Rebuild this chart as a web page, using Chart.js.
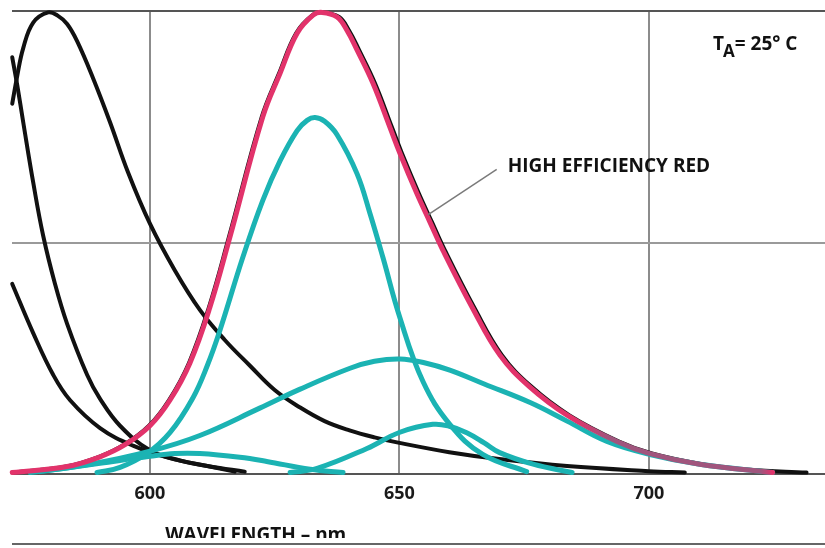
<!DOCTYPE html>
<html>
<head>
<meta charset="utf-8">
<script src="https://cdn.jsdelivr.net/npm/chart.js@4/dist/chart.umd.min.js"></script>
<style>
body { margin: 0; background: #fff; }
#wrap { width: 825px; height: 548px; }
</style>
</head>
<body>
<div id="wrap"><canvas id="chart1" width="825" height="548"></canvas></div>
<script>
// wavelength (nm) / relative intensity
let xTicks = [600, 650, 700],
    yTicks = [0, 0.5, 1];

// black curves
let aX = [572.4, 573.4, 574.6, 576.6, 579.6, 581.5, 583.4, 585.4, 588.6, 592.0, 595.6, 600.0, 605.0, 610.0, 615.0, 620.0, 625.0, 630.0, 635.0, 640.0, 645.0, 650.0, 660.0, 670.0, 683.6, 700.0, 707.2],
    aY = [0.800, 0.860, 0.920, 0.975, 0.997, 0.990, 0.972, 0.935, 0.855, 0.760, 0.652, 0.541, 0.440, 0.355, 0.290, 0.235, 0.182, 0.145, 0.115, 0.095, 0.080, 0.068, 0.048, 0.033, 0.018, 0.007, 0.004];
let bX = [572.4, 573.4, 574.6, 576.6, 578.6, 581.0, 583.4, 587.4, 590.0, 594.0, 600.0, 606.0, 612.0, 619.0],
    bY = [0.900, 0.840, 0.760, 0.630, 0.515, 0.410, 0.325, 0.215, 0.163, 0.105, 0.052, 0.030, 0.017, 0.006];
let cX = [572.4, 576.6, 580.6, 584.0, 590.0, 596.6, 604.0, 612.0, 617.0],
    cY = [0.411, 0.305, 0.215, 0.160, 0.100, 0.062, 0.035, 0.017, 0.006];
let dX = [572.4, 583.2, 589.8, 594.8, 599.8, 603.8, 607.8, 611.8, 615.8, 622.4, 625.9, 629.3, 632.6, 634.6, 637.9, 639.9, 641.9, 645.1, 648.5, 650.5, 653.9, 656.5, 659.1, 665.1, 670.5, 676.4, 684.0, 694.0, 700.6, 710.6, 720.0, 731.6],
    dY = [0.004, 0.017, 0.038, 0.064, 0.105, 0.160, 0.240, 0.360, 0.511, 0.771, 0.866, 0.952, 0.991, 0.997, 0.987, 0.958, 0.916, 0.844, 0.749, 0.693, 0.606, 0.545, 0.484, 0.358, 0.258, 0.190, 0.128, 0.071, 0.045, 0.022, 0.010, 0.004];

// high efficiency red
let rX = [572.4, 583.4, 590.0, 595.0, 600.0, 604.0, 608.0, 612.0, 616.0, 622.6, 626.1, 629.5, 632.7, 634.5, 637.5, 639.5, 641.5, 644.7, 648.1, 650.1, 653.5, 656.1, 658.7, 664.7, 670.1, 676.0, 683.6, 693.6, 700.2, 710.2, 724.8],
    rY = [0.004, 0.017, 0.038, 0.064, 0.105, 0.160, 0.240, 0.360, 0.511, 0.771, 0.866, 0.952, 0.991, 0.997, 0.987, 0.958, 0.916, 0.844, 0.749, 0.693, 0.606, 0.545, 0.484, 0.358, 0.258, 0.190, 0.128, 0.071, 0.045, 0.022, 0.004];

// cyan curves
let eX = [589.4, 594.0, 599.4, 604.0, 608.6, 611.5, 614.0, 618.6, 622.6, 626.1, 629.5, 631.5, 633.1, 635.0, 637.5, 641.5, 644.1, 646.7, 650.1, 654.7, 660.1, 666.7, 675.5],
    eY = [0.004, 0.015, 0.045, 0.090, 0.165, 0.235, 0.310, 0.468, 0.591, 0.677, 0.742, 0.764, 0.770, 0.762, 0.733, 0.649, 0.563, 0.468, 0.338, 0.201, 0.108, 0.043, 0.006];
let fX = [576.0, 588.0, 600.0, 610.0, 622.0, 630.1, 640.1, 645.0, 650.1, 655.0, 660.1, 667.0, 676.2, 683.6, 691.6, 700.2, 710.2, 724.8],
    fY = [0.004, 0.022, 0.050, 0.084, 0.143, 0.184, 0.229, 0.244, 0.249, 0.241, 0.225, 0.195, 0.155, 0.115, 0.071, 0.043, 0.022, 0.004];
let gX = [628.1, 633.5, 643.5, 650.1, 656.7, 660.0, 663.5, 667.0, 670.1, 676.8, 684.6],
    gY = [0.004, 0.013, 0.056, 0.091, 0.108, 0.104, 0.090, 0.068, 0.047, 0.022, 0.004];
let hX = [578.0, 590.0, 600.0, 605.0, 610.0, 618.0, 623.4, 632.1, 638.7],
    hY = [0.006, 0.024, 0.039, 0.045, 0.045, 0.037, 0.028, 0.011, 0.004];

let labelText = "HIGH EFFICIENCY RED",
    axisTitle = "WAVELENGTH – nm";

const RED = "#e2336b",
      MAUVE = "#a0557d",
      CYAN = "#1bb3b3",
      BLACK = "#111";

function pts(xs, ys) {
    return xs.map((x, i) => ({ x: x, y: ys[i] }));
}

function curve(xs, ys, color, w, order) {
    return {
        data: pts(xs, ys),
        borderColor: color,
        borderWidth: w,
        order: order,
        tension: 0.4,
        borderCapStyle: "round",
        borderJoinStyle: "round",
        pointRadius: 0,
        fill: false,
        clip: 6
    };
}

// red fades to mauve where the cyan tail lies under it
function redColor(ctx) {
    let chart = ctx.chart;
    if (!chart.chartArea) return RED;
    let xs = chart.scales.x;
    let g = chart.ctx.createLinearGradient(0, 0, chart.width, 0);
    let p = v => Math.min(1, Math.max(0, xs.getPixelForValue(v) / chart.width));
    g.addColorStop(0, RED);
    g.addColorStop(p(685), RED);
    g.addColorStop(p(692), MAUVE);
    g.addColorStop(p(722.5), MAUVE);
    g.addColorStop(p(724.8), RED);
    g.addColorStop(1, RED);
    return g;
}

const notes = {
    id: "notes",
    afterDraw(chart) {
        let c = chart.ctx, xs = chart.scales.x, ys = chart.scales.y;
        c.save();
        // leader line
        c.strokeStyle = "#7a7a7a";
        c.lineWidth = 1.5;
        c.beginPath();
        c.moveTo(xs.getPixelForValue(655.7), ys.getPixelForValue(0.56));
        c.lineTo(xs.getPixelForValue(669.5), ys.getPixelForValue(0.658));
        c.stroke();

        c.fillStyle = "#111";
        c.textBaseline = "alphabetic";
        c.textAlign = "left";
        c.font = "bold 19px 'Open Sans'";
        c.fillText(labelText, xs.getPixelForValue(671.7), 172, 207);

        // T_A = 25° C
        let tx = 713;
        c.font = "bold 19px 'Open Sans'";
        c.fillText("T", tx, 50);
        tx += c.measureText("T").width - 1;
        c.font = "bold 17px 'Open Sans'";
        c.fillText("A", tx, 57);
        tx += c.measureText("A").width;
        c.font = "bold 19px 'Open Sans'";
        c.fillText("= 25° C", tx, 50, 802 - tx);

        // axis title, cut off at the bottom like the scan
        c.save();
        c.beginPath();
        c.rect(0, 0, chart.width, 538);
        c.clip();
        c.textAlign = "center";
        c.font = "bold 19px 'Open Sans'";
        c.fillText(axisTitle, xs.getPixelForValue(621.2), 541, 186);
        c.restore();

        c.strokeStyle = "#333";
        c.lineWidth = 1.5;
        c.beginPath();
        c.moveTo(chart.chartArea.left, 544);
        c.lineTo(chart.width, 544);
        c.stroke();
        c.restore();
    }
};

let chart1 = new Chart(document.getElementById("chart1").getContext("2d"), {
    type: "line",
    data: {
        datasets: [
            curve(aX, aY, BLACK, 4, 3),
            curve(bX, bY, BLACK, 4, 3),
            curve(cX, cY, BLACK, 4, 3),
            curve(dX, dY, BLACK, 4, 3),
            curve(eX, eY, CYAN, 5, 2),
            curve(fX, fY, CYAN, 5, 2),
            curve(gX, gY, CYAN, 5, 2),
            curve(hX, hY, CYAN, 5, 2),
            Object.assign(curve(rX, rY, RED, 5, 0), { borderColor: redColor })
        ]
    },
    options: {
        responsive: false,
        animation: false,
        layout: { padding: { left: 12, top: 11, right: 0, bottom: 34 } },
        plugins: {
            legend: { display: false },
            tooltip: { enabled: false }
        },
        scales: {
            x: {
                type: "linear",
                min: 572.35,
                max: 735.3,
                afterBuildTicks: s => { s.ticks = xTicks.map(v => ({ value: v })); },
                grid: { color: "#8c8c8c", lineWidth: 2, drawTicks: false },
                border: { display: false },
                ticks: {
                    font: { family: "Open Sans", weight: "bold", size: 18 },
                    color: "#1a1a1a",
                    padding: 9,
                    maxRotation: 0
                }
            },
            y: {
                min: 0,
                max: 1,
                afterBuildTicks: s => { s.ticks = yTicks.map(v => ({ value: v })); },
                grid: {
                    color: c => c.tick && c.tick.value === 0.5 ? "#9a9a9a" : "#555",
                    lineWidth: 2,
                    drawTicks: false
                },
                border: { display: false },
                ticks: { display: false }
            }
        }
    },
    plugins: [notes]
});
</script>
</body>
</html>
